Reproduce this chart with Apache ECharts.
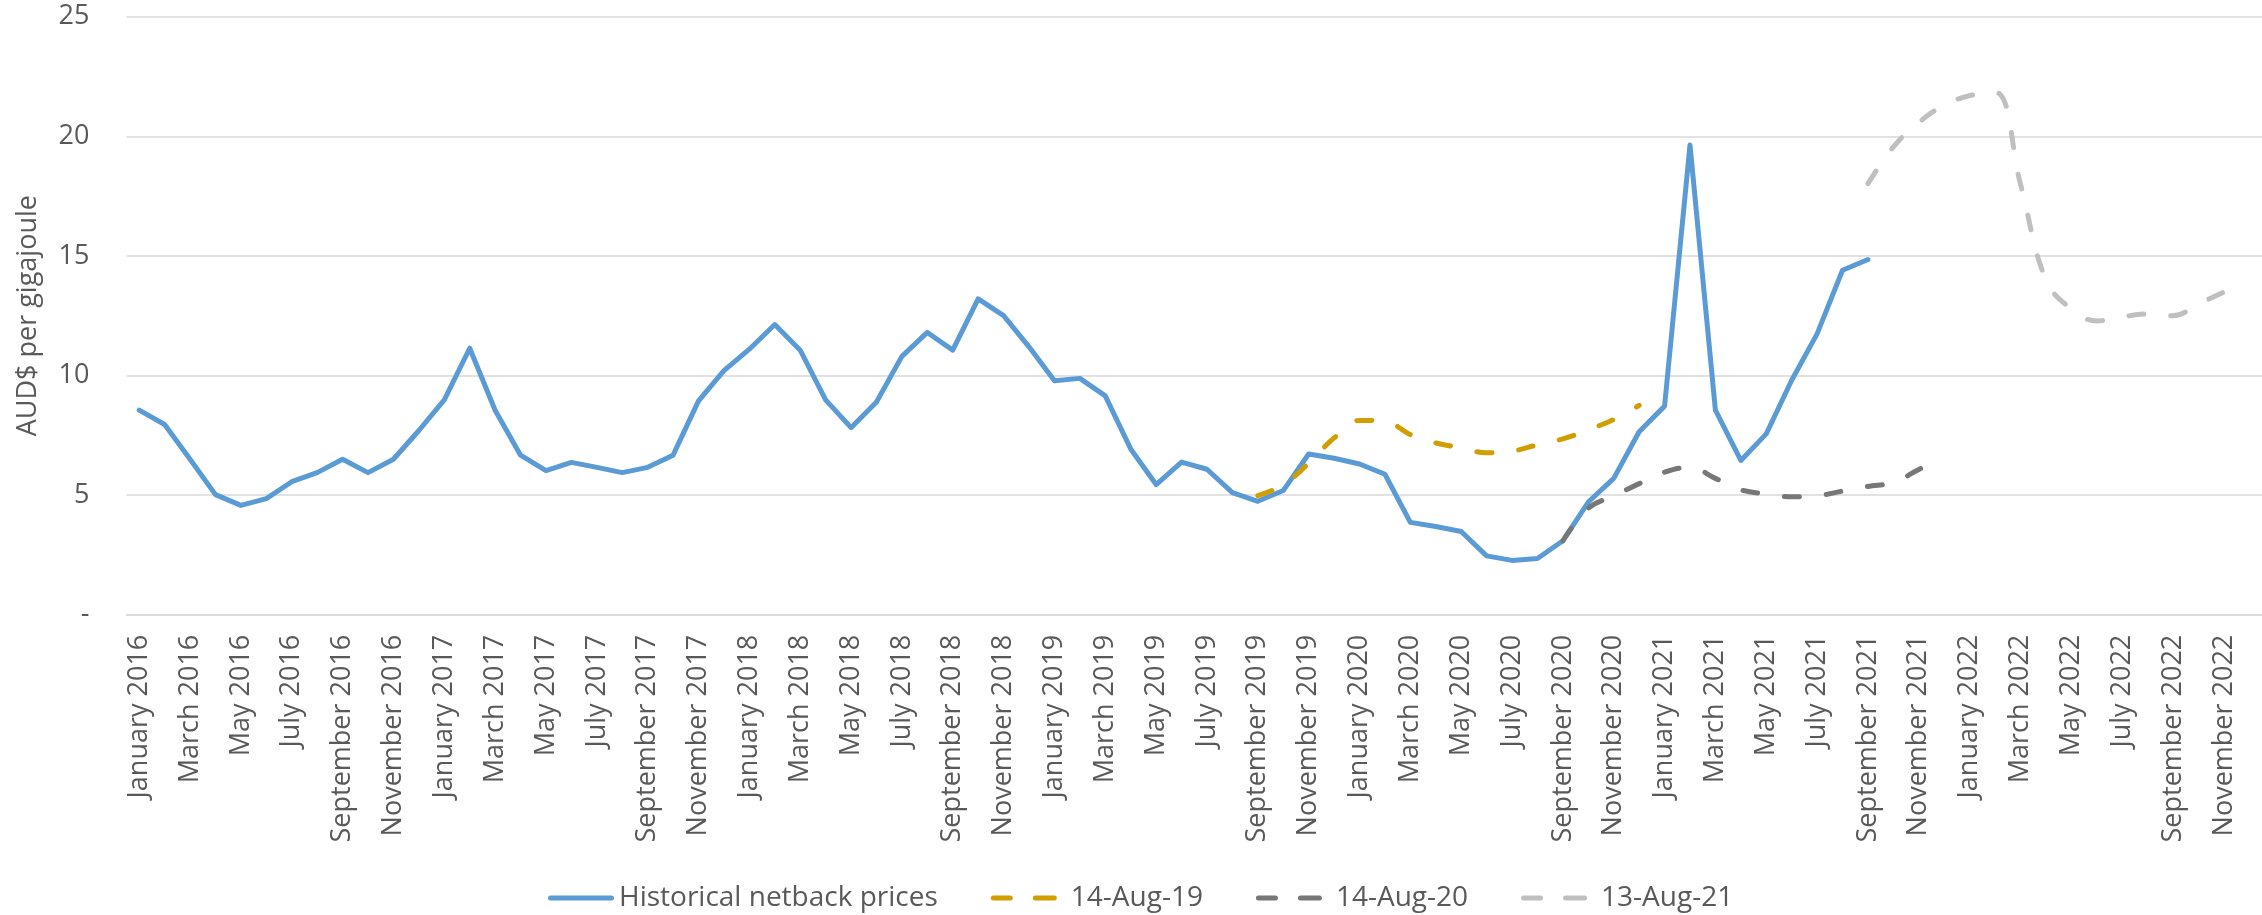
<!DOCTYPE html>
<html>
<head>
<meta charset="utf-8">
<script src="https://cdn.jsdelivr.net/npm/echarts@6/dist/echarts.min.js"></script>
<style>
  html, body { margin: 0; padding: 0; background: #fff; }
  #chart { width: 2262px; height: 915px; }
</style>
</head>
<body>
<div id="chart"></div>
<script>
// month labels, Jan 2016 .. Dec 2022
const monthNames = ["January", "February", "March", "April", "May", "June",
  "July", "August", "September", "October", "November", "December"];
const years = [2016, 2017, 2018, 2019, 2020, 2021, 2022];
const categories = [];
years.forEach((y) => monthNames.forEach((m) => categories.push(m + " " + y)));

const yTicks = [0, 5, 10, 15, 20, 25];

// historical netback prices, Jan 2016 .. Sep 2021
const historical = [
  8.55, 7.95, 6.5, 5.02, 4.57, 4.85, 5.56, 5.94, 6.5, 5.94, 6.5, 7.7,
  8.98, 11.14, 8.55, 6.67, 6.02, 6.37, 6.16, 5.94, 6.16, 6.67, 8.94, 10.2,
  11.1, 12.13, 11.06, 8.98, 7.82, 8.89, 10.8, 11.8, 11.06, 13.2, 12.5, 11.2,
  9.78, 9.88, 9.15, 6.93, 5.44, 6.38, 6.08, 5.1, 4.74, 5.19, 6.72, 6.54,
  6.3, 5.87, 3.86, 3.69, 3.48, 2.46, 2.27, 2.35, 3.09, 4.71, 5.7, 7.65,
  8.72, 19.64, 8.55, 6.45, 7.56, 9.8, 11.74, 14.4, 14.85
];
// forecast made 14-Aug-19, Sep 2019 .. Dec 2020
const fc2019Start = 44;
const fc2019 = [4.98, 5.43, 6.33, 7.39, 8.12, 8.09, 7.53, 7.18, 6.98, 6.77, 6.84, 7.1, 7.35, 7.73, 8.16, 8.75];
// forecast made 14-Aug-20, Sep 2020 .. Dec 2021
const fc2020Start = 56;
const fc2020 = [3.09, 4.45, 4.97, 5.48, 5.96, 6.16, 5.7, 5.22, 5.05, 4.93, 4.97, 5.17, 5.36, 5.53, 6.07, 6.6];
// forecast made 13-Aug-21, Sep 2021 .. Nov 2022
const fc2021Start = 68;
const fc2021 = [18.02, 19.56, 20.58, 21.3, 21.7, 21.85, 18.0, 14.0, 12.78, 12.28, 12.45, 12.57, 12.5, 12.99, 13.49];

// pad a series out to the full category list
const place = (start, vals) =>
  categories.map((_, i) => (i >= start && i < start + vals.length ? vals[i - start] : null));

const textColor = "#595959";
const font = "Open Sans";

// legend icons: a solid bar and a two-dash bar
const solidIcon = "path://M2.5,0H63.5A2.5,2.5,0,0,1,63.5,5H2.5A2.5,2.5,0,0,1,2.5,0Z";
const dashIcon =
  "path://M2.5,0H19.5A2.5,2.5,0,0,1,19.5,5H2.5A2.5,2.5,0,0,1,2.5,0Z" +
  "M44.5,0H63.5A2.5,2.5,0,0,1,63.5,5H44.5A2.5,2.5,0,0,1,44.5,0Z";
const dashText = { padding: [0, 0, 0, 9] };

const chart = echarts.init(document.getElementById("chart"));

const dashed = (name, color, start, vals) => ({
  name: name,
  type: "line",
  data: place(start, vals),
  symbol: "none",
  smooth: 0.4,
  lineStyle: { color: color, width: 5, type: [15, 27], cap: "round", join: "round" },
  itemStyle: { color: color },
});

chart.setOption({
  animation: false,
  backgroundColor: "#fff",
  grid: { left: 126.5, right: -5.5, top: 16.7, bottom: 300.3 },
  legend: {
    top: 879,
    left: 543,
    itemWidth: 66,
    itemHeight: 5,
    itemGap: 53,
    textStyle: { color: textColor, fontSize: 28, fontFamily: font },
    data: [
      { name: "Historical netback prices", icon: solidIcon },
      { name: "14-Aug-19", icon: dashIcon, textStyle: dashText },
      { name: "14-Aug-20", icon: dashIcon, textStyle: dashText },
      { name: "13-Aug-21", icon: dashIcon, textStyle: dashText },
    ],
  },
  xAxis: {
    type: "category",
    data: categories,
    boundaryGap: true,
    axisLine: { lineStyle: { color: "#D9D9D9", width: 1.5 } },
    axisTick: { interval: 1, length: 10, lineStyle: { color: "#D9D9D9", width: 1.5 } },
    axisLabel: {
      interval: 1,
      rotate: 90,
      margin: 20,
      color: textColor,
      fontSize: 27,
      fontFamily: font,
    },
  },
  yAxis: {
    type: "value",
    min: yTicks[0],
    max: yTicks[yTicks.length - 1],
    interval: 5,
    name: "AUD$ per gigajoule",
    nameLocation: "middle",
    nameRotate: 90,
    nameGap: 85,
    nameTextStyle: { color: textColor, fontSize: 27, fontFamily: font },
    axisLine: { show: false },
    axisTick: { show: false },
    splitLine: { lineStyle: { color: "#D9D9D9", width: 1.5 } },
    axisLabel: {
      margin: 37,
      color: textColor,
      fontSize: 27,
      fontFamily: font,
      formatter: (v) => (v === 0 ? "-" : String(v)),
    },
  },
  series: [
    {
      name: "Historical netback prices",
      type: "line",
      data: place(0, historical),
      symbol: "none",
      lineStyle: { color: "#5B9BD5", width: 5, cap: "round", join: "round" },
      itemStyle: { color: "#5B9BD5" },
    },
    dashed("14-Aug-19", "#D09E00", fc2019Start, fc2019),
    dashed("14-Aug-20", "#777777", fc2020Start, fc2020),
    dashed("13-Aug-21", "#BFBFBF", fc2021Start, fc2021),
  ],
});
</script>
</body>
</html>
